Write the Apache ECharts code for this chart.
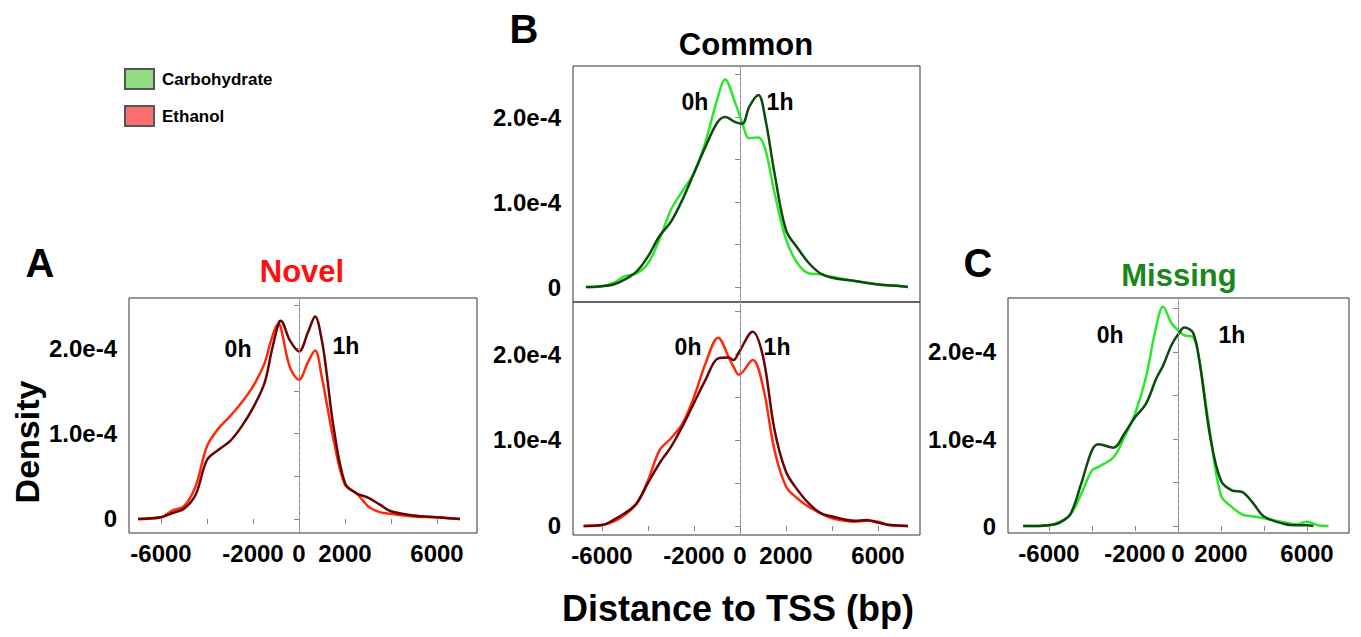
<!DOCTYPE html>
<html>
<head>
<meta charset="utf-8">
<script src="https://cdn.jsdelivr.net/npm/echarts@6/dist/echarts.min.js"></script>
<style>
html,body{margin:0;padding:0;background:#fff;}
#chart{width:1361px;height:637px;}
</style>
</head>
<body>
<div id="chart"></div>
<script>
// ---------- DATA (density values in units of 1e-4) ----------
// Panel A: Novel (Ethanol)
const novelX      = [-7000,-6000,-5500,-5000,-4500,-4000,-3500,-3000,-2500,-2000,-1500,-1200,-900,-800,-400,0,400,700,1000,1200,1500,2000,2500,3000,3500,4000,5000,6000,7000];
const novelEth0h  = [0,0.02,0.10,0.15,0.38,0.85,1.06,1.20,1.36,1.55,1.82,2.10,2.28,2.25,1.78,1.63,1.84,1.97,1.65,1.36,0.93,0.40,0.30,0.15,0.08,0.06,0.03,0.02,0];
const novelEth1h  = [0,0.02,0.07,0.12,0.28,0.69,0.81,0.91,1.08,1.30,1.59,1.95,2.28,2.32,2.09,1.96,2.19,2.37,2.08,1.71,1.08,0.42,0.30,0.25,0.17,0.09,0.04,0.02,0];

// Panel B top: Common (Carbohydrate)
const commonCarbX   = [-6700,-6000,-5500,-5000,-4500,-4000,-3500,-3000,-2500,-2000,-1500,-1000,-650,-200,100,400,800,1100,1500,2000,2500,3000,3500,4000,5000,6000,7000,7300];
const commonCarb0h  = [0,0.01,0.05,0.13,0.16,0.28,0.56,0.91,1.13,1.34,1.71,2.20,2.44,2.16,1.93,1.75,1.76,1.62,1.11,0.56,0.28,0.16,0.15,0.12,0.07,0.03,0.01,0];
const commonCarb1h  = [0,0.01,0.03,0.09,0.18,0.36,0.60,0.77,1.03,1.34,1.65,1.93,2.00,1.94,1.92,2.12,2.26,1.98,1.34,0.67,0.46,0.28,0.16,0.11,0.07,0.03,0.01,0];

// Panel B bottom: Common (Ethanol)
const commonEthX    = [-6800,-6000,-5500,-5000,-4500,-4000,-3500,-3000,-2500,-2000,-1500,-950,-500,-280,-50,550,1000,1500,2000,2500,3000,3500,4000,5000,5500,6000,6500,7300];
const commonEth0h   = [0,0.01,0.05,0.13,0.26,0.53,0.88,1.02,1.19,1.50,1.89,2.19,1.97,1.85,1.76,1.93,1.62,0.88,0.46,0.32,0.22,0.15,0.09,0.05,0.06,0.05,0.01,0];
const commonEth1h   = [0,0.01,0.07,0.15,0.26,0.50,0.73,0.92,1.16,1.43,1.70,1.95,1.96,1.93,2.02,2.26,1.97,1.12,0.63,0.42,0.26,0.15,0.11,0.06,0.07,0.04,0.01,0];

// Panel C: Missing (Carbohydrate)
const missingX0h    = [-7200,-6000,-5500,-5000,-4500,-4000,-3700,-3000,-2500,-2000,-1500,-1000,-700,-300,0,300,700,1000,1500,2000,2500,3000,3500,4000,5000,5500,6000,6500,7000];
const missingCarb0h = [0,0.01,0.05,0.13,0.37,0.64,0.68,0.79,1.02,1.29,1.70,2.31,2.52,2.33,2.25,2.19,2.17,1.89,1.06,0.35,0.22,0.13,0.11,0.09,0.04,0.02,0.05,0.01,0];
const missingX1h    = [-7200,-6000,-5500,-5000,-4500,-4000,-3700,-3000,-2500,-2000,-1500,-1000,-700,-300,0,300,700,1000,1500,2000,2500,3000,3500,4000,5000,5500,6000,6300];
const missingCarb1h = [0,0.01,0.04,0.14,0.49,0.87,0.94,0.90,1.06,1.25,1.40,1.70,1.84,2.08,2.20,2.28,2.22,1.89,1.02,0.52,0.41,0.39,0.26,0.11,0.02,0.01,0.01,0];

// Tick labels
const xTickValues  = [-6000,-4000,-2000,0,2000,4000,6000];
const xLabelValues = [-6000,-2000,0,2000,6000];
const yTickValues  = [0,0.5,1,1.5,2,2.5];
const yLabelValues = [0,1,2];
const legendNames  = ['Carbohydrate','Ethanol'];
const timeLabels   = ['0h','1h'];

// ---------- STYLE ----------
const FONT = '"Liberation Sans", Arial, Helvetica, sans-serif';
const RED_LIGHT = '#ff2a0a', RED_DARK = '#6a0303';
const GREEN_LIGHT = '#2ee62e', GREEN_DARK = '#0d4a0d';

function pairs(xs, ys){ return xs.map((x,i)=>[x, ys[i]]); }

const grids = [
  {left:129, top:298, width:348, height:235},  // A
  {left:573, top:66,  width:347, height:236},  // B top
  {left:573, top:302, width:347, height:233},  // B bottom
  {left:1008,top:298, width:341, height:235}   // C
];
const xRanges = [[-7391,7739],[-7261,7826],[-7261,7826],[-7907,7953]];
const yRanges = [[-0.164,2.585],[-0.176,2.6],[-0.105,2.605],[-0.08,2.62]];

const labelStyle = {fontFamily:FONT, fontWeight:'bold', fontSize:24, color:'#000'};

const xAxes = grids.map((g,i)=>({
  type:'value', gridIndex:i, min:xRanges[i][0], max:xRanges[i][1],
  splitLine:{show:false},
  axisLine:{show:false},
  axisTick:{show:i!==1, customValues:xTickValues, length:5, lineStyle:{color:'#888'}},
  axisLabel:Object.assign({show:i!==1, customValues:xLabelValues, margin:8,
    formatter:v=>String(v)}, labelStyle)
}));
const yAxes = grids.map((g,i)=>({
  type:'value', gridIndex:i, min:yRanges[i][0], max:yRanges[i][1], offset:4,
  splitLine:{show:false},
  axisLine:{show:true, lineStyle:{color:'#aaa'}},
  axisTick:{show:true, customValues:yTickValues, length:5, lineStyle:{color:'#888'}},
  axisLabel:Object.assign({customValues:yLabelValues, margin:8,
    formatter:v=> v===0 ? '0' : v.toFixed(1)+'e-4'}, labelStyle)
}));

function curve(name, xs, ys, idx, color){
  return {
    name:name, type:'line', xAxisIndex:idx, yAxisIndex:idx,
    data:pairs(xs, ys), smooth:0.35, showSymbol:false, symbol:'none',
    lineStyle:{color:color, width:2.5}, itemStyle:{color:color},
    silent:true, z:3
  };
}
function zeroLine(idx){
  return {
    type:'line', xAxisIndex:idx, yAxisIndex:idx, data:[], silent:true,
    markLine:{silent:true, symbol:'none', label:{show:false},
      lineStyle:{type:[3,3], color:'#8a8a8a', width:1},
      data:[{xAxis:0}]}
  };
}
function timeText(idx, pos0, pos1){
  return {
    type:'scatter', xAxisIndex:idx, yAxisIndex:idx, symbolSize:0, silent:true,
    itemStyle:{color:'#fff', opacity:1}, z:5,
    label:{show:true, position:'inside', formatter:'{b}', fontFamily:FONT, fontWeight:'bold', fontSize:23,
      color:'#000', textBorderWidth:0, opacity:1},
    data:[{name:timeLabels[0], value:pos0},{name:timeLabels[1], value:pos1}]
  };
}

const series = [
  // legend entries
  {name:legendNames[0], type:'line', xAxisIndex:0, yAxisIndex:0, data:[], itemStyle:{color:'#93dc84', borderColor:'#555', borderWidth:1}},
  {name:legendNames[1], type:'line', xAxisIndex:0, yAxisIndex:0, data:[], itemStyle:{color:'#fb6f6f', borderColor:'#555', borderWidth:1}},
  zeroLine(0), zeroLine(1), zeroLine(2), zeroLine(3),
  curve('Novel Ethanol 0h', novelX, novelEth0h, 0, RED_LIGHT),
  curve('Novel Ethanol 1h', novelX, novelEth1h, 0, RED_DARK),
  curve('Common Carbohydrate 0h', commonCarbX, commonCarb0h, 1, GREEN_LIGHT),
  curve('Common Carbohydrate 1h', commonCarbX, commonCarb1h, 1, GREEN_DARK),
  curve('Common Ethanol 0h', commonEthX, commonEth0h, 2, RED_LIGHT),
  curve('Common Ethanol 1h', commonEthX, commonEth1h, 2, RED_DARK),
  curve('Missing Carbohydrate 0h', missingX0h, missingCarb0h, 3, GREEN_LIGHT),
  curve('Missing Carbohydrate 1h', missingX1h, missingCarb1h, 3, GREEN_DARK),
  timeText(0, [-2650,1.99], [2040,2.02]),
  timeText(1, [-1960,2.18], [1740,2.18]),
  timeText(2, [-2260,2.08], [1610,2.08]),
  timeText(3, [-3160,2.20], [2510,2.20])
];

function txt(text, x, y, size, color, extra){
  return Object.assign({type:'text', x:x, y:y, silent:true,
    style:{text:text, fill:color||'#000', font:'bold '+size+'px '+FONT, textAlign:'center', textVerticalAlign:'middle'}}, extra||{});
}

const option = {
  animation:false,
  backgroundColor:'#fff',
  grid:grids.map(g=>Object.assign({show:true, borderColor:'#333', borderWidth:1, backgroundColor:'transparent', containLabel:false}, g)),
  xAxis:xAxes,
  yAxis:yAxes,
  legend:{
    data:legendNames, orient:'vertical', left:124, top:68, padding:0, itemWidth:29, itemHeight:20, itemGap:15,
    icon:'rect', selectedMode:false,
    textStyle:{fontFamily:FONT, fontWeight:'bold', fontSize:17, color:'#000', padding:[0,0,0,3]}
  },
  graphic:[
    txt('A', 40, 263, 40),
    txt('B', 524, 29, 40),
    txt('C', 978, 263, 40),
    txt('Novel', 302, 271, 31, '#ff1010'),
    txt('Common', 746, 44, 31, '#000'),
    txt('Missing', 1179, 275, 31, '#1b861b'),
    txt('Density', 27, 442, 34, '#000', {rotation:Math.PI/2}),
    txt('Distance to TSS (bp)', 738, 608, 36, '#000')
  ],
  series:series
};

const chart = echarts.init(document.getElementById('chart'), null, {renderer:'svg'});
chart.setOption(option);
</script>
</body>
</html>
